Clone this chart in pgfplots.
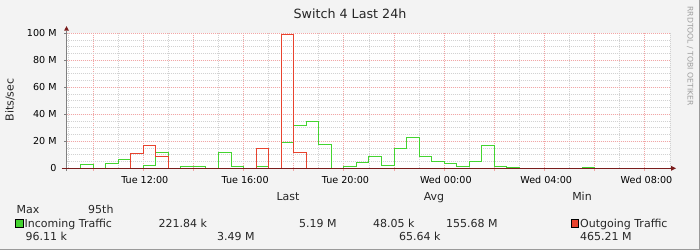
\documentclass[border=0pt]{standalone}
\usepackage{fontspec}
\setmainfont{DejaVu Sans}
\usepackage{pgfplots}
\pgfplotsset{compat=1.18}
\definecolor{bgcol}{HTML}{F3F3F3}
\definecolor{mgridcol}{HTML}{F2A6A6}
\definecolor{mingridcol}{HTML}{D2D2D2}
\definecolor{ingreen}{HTML}{44D430}
\definecolor{outred}{HTML}{E8432E}
\definecolor{axred}{HTML}{7A1C1C}
\definecolor{framecol}{HTML}{9A9A9A}
\begin{document}
\begin{tikzpicture}
\begin{scope}[x=1pt,y=1pt]
\fill[bgcol] (0,0) rectangle (700,250);
\useasboundingbox (0,0) rectangle (700,250);
\draw[framecol, line width=1pt] (0,0.5) -- (699.5,0.5) -- (699.5,250);
\end{scope}
\begin{axis}[
  at={(66.7pt,81.7pt)}, anchor=south west,
  scale only axis, width=603.3pt, height=135pt,
  xmin=8.95, xmax=33, ymin=0, ymax=100,
  axis background/.style={fill=white},
  axis line style={draw=none},
  clip=true,
  xtick={10,12,...,32},
  xticklabels={,Tue 12:00,,Tue 16:00,,Tue 20:00,,Wed 00:00,,Wed 04:00,,Wed 08:00},
  minor xtick={9,11,...,33},
  ytick={0,20,...,100},
  yticklabels={0,20 M,40 M,60 M,80 M,100 M},
  minor ytick={5,10,...,95},
  xtick pos=bottom, ytick pos=left,
  grid=both,
  major grid style={draw=mgridcol, dash pattern=on 1pt off 1pt, line width=0.9pt},
  minor grid style={draw=mingridcol, dash pattern=on 1pt off 1pt, line width=0.9pt},
  tick align=outside,
  major tick length=2.5pt, minor tick length=0pt,
  xtick style={draw=mgridcol, line width=0.9pt},
  ytick style={draw=gray, line width=0.9pt},
  xticklabel style={font=\fontsize{9.6}{10}\selectfont, anchor=base, inner sep=0pt, yshift=-12.7pt, xshift=1.6pt},
  yticklabel style={font=\fontsize{9.6}{10}\selectfont, anchor=base east, inner sep=0pt, yshift=-3.5pt, xshift=-7.4pt},
  xticklabel shift=0pt, yticklabel shift=0pt,
]
\addplot[const plot, mark=none, draw=ingreen, line width=1pt, line join=miter] coordinates {
(8.95,0) (9.5,3.0) (10,0) (10.5,3.7) (11,6.7) (11.5,0) (12,2.2) (12.5,11.9) (13,0) (13.5,1.0) (14.5,0) (15,11.9) (15.5,1.7) (16,0) (16.5,1.0) (17,0) (17.5,19.3) (18,31.9) (18.5,35) (19,17.8) (19.5,0) (20,1.0) (20.5,4.4) (21,9.1) (21.5,2.2) (22,14.8) (22.5,23) (23,8.4) (23.5,5.2) (24,3.7) (24.5,1.0) (25,5.2) (25.5,17) (26,1.7) (26.5,0.8) (27,0) (29.5,0.8) (30,0) (33,0)
};
\addplot[const plot, mark=none, draw=outred, line width=1pt, line join=miter] coordinates {
(8.95,0) (11.5,11.1) (12,17) (12.5,8.4) (13,0) (16.5,14.8) (17,0) (17.5,99.2) (18,11.9) (18.5,0) (33,0)
};
\end{axis}
\begin{scope}[x=1pt,y=1pt]
% axes
\draw[gray, line width=1pt] (66.5,79) -- (66.5,219.3);
\fill[axred] (64,219.3) -- (69,219.3) -- (66.5,223.8) -- cycle;
\draw[axred, line width=1pt] (61.7,81.7) -- (671,81.7);
\fill[axred] (671,79.2) -- (671,84.2) -- (676,81.7) -- cycle;
% title and labels
\node[anchor=base, inner sep=0pt, font=\fontsize{12.7}{13}\selectfont, text=black!85] at (350,231.7) {Switch 4 Last 24h};
\node[rotate=90, inner sep=0pt, font=\fontsize{11}{12}\selectfont, text=black!85] at (10,150) {Bits/sec};
\node[rotate=-90, inner sep=0pt, font=\fontsize{7.7}{8}\selectfont, text=black!38] at (690,194) {RRDTOOL / TOBI OETIKER};
% legend
\begin{scope}[every node/.style={inner sep=0pt, font=\fontsize{11}{12}\selectfont, text=black!85}]
\node[anchor=base] at (288,49.5) {Last};
\node[anchor=base] at (434,49.5) {Avg};
\node[anchor=base] at (582,49.5) {Min};
\node[anchor=base west] at (16.5,36.1) {Max};
\node[anchor=base west] at (88,36.1) {95th};
\fill[ingreen, draw=black, line width=0.8pt] (15.8,22.9) rectangle (23,30.5);
\node[anchor=base west] at (24.5,22.7) {Incoming Traffic};
\node[anchor=base west] at (158.5,22.7) {221.84 k};
\node[anchor=base west] at (299,22.7) {5.19 M};
\node[anchor=base west] at (373,22.7) {48.05 k};
\node[anchor=base west] at (446,22.7) {155.68 M};
\fill[outred, draw=black, line width=0.8pt] (571.3,22.9) rectangle (578.5,30.5);
\node[anchor=base west] at (580,22.7) {Outgoing Traffic};
\node[anchor=base west] at (25.4,9.3) {96.11 k};
\node[anchor=base west] at (217,9.3) {3.49 M};
\node[anchor=base west] at (399,9.3) {65.64 k};
\node[anchor=base west] at (580,9.3) {465.21 M};
\end{scope}
\end{scope}
\end{tikzpicture}
\end{document}
